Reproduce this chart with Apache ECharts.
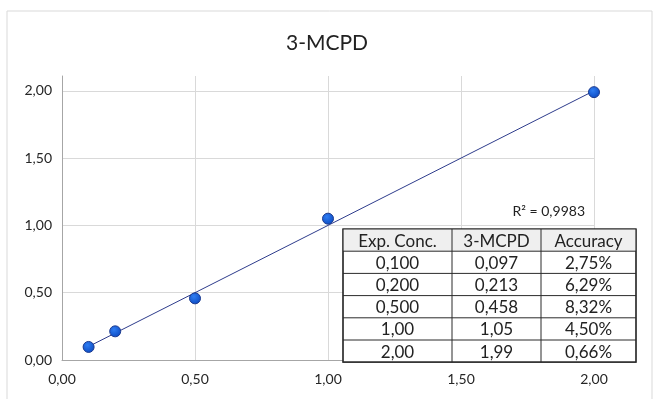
<!DOCTYPE html>
<html><head><meta charset="utf-8">
<script src="https://cdn.jsdelivr.net/npm/echarts@6/dist/echarts.min.js"></script>
<style>html,body{margin:0;padding:0;background:#fff}#c{width:654px;height:399px}</style>
</head><body><div id="c"></div>
<script>
const expConc = [0.100, 0.200, 0.500, 1.00, 2.00];
const measured = [0.097, 0.213, 0.458, 1.05, 1.99];
const trendX = [0.1, 2.0];
const trendY = [0.1, 2.0];
const xTicks = [0, 0.5, 1.0, 1.5, 2.0];
const yTicks = [0, 0.5, 1.0, 1.5, 2.0];
const rSquared = '0,9983';
const tableHeader = ['Exp. Conc.', '3-MCPD', 'Accuracy'];
const colExp = ['0,100', '0,200', '0,500', '1,00', '2,00'];
const colMeas = ['0,097', '0,213', '0,458', '1,05', '1,99'];
const colAcc = ['2,75%', '6,29%', '8,32%', '4,50%', '0,66%'];

const FONT = 'Lato';
const fmt = v => v.toFixed(2).replace('.', ',');

// table layout
const tX = 343, tY = 229, colW = [109, 89, 95], rowH = 22.2;
const tableEls = [];
const rows = [tableHeader].concat(colExp.map((e, i) => [e, colMeas[i], colAcc[i]]));
const totalW = colW.reduce((a, b) => a + b, 0);
tableEls.push({type: 'rect', shape: {x: tX, y: tY, width: totalW, height: rowH * rows.length}, style: {fill: '#fff', stroke: '#2b2b2b', lineWidth: 1.2}, z: 10});
tableEls.push({type: 'rect', shape: {x: tX, y: tY, width: totalW, height: rowH}, style: {fill: '#efefef', stroke: null}, z: 10});
rows.forEach((r, ri) => {
  let cx = tX;
  r.forEach((t, ci) => {
    tableEls.push({type: 'text', x: cx + colW[ci] / 2, y: tY + rowH * ri + rowH / 2 + 1,
      style: {text: t, fill: '#222', font: '17px ' + FONT, align: 'center', verticalAlign: 'middle'}, z: 12});
    cx += colW[ci];
  });
  if (ri > 0) tableEls.push({type: 'line', shape: {x1: tX, y1: tY + rowH * ri, x2: tX + totalW, y2: tY + rowH * ri}, style: {stroke: '#2b2b2b', lineWidth: 1}, z: 11});
});
let vx = tX;
colW.slice(0, -1).forEach(w => { vx += w; tableEls.push({type: 'line', shape: {x1: vx, y1: tY, x2: vx, y2: tY + rowH * rows.length}, style: {stroke: '#2b2b2b', lineWidth: 1}, z: 11}); });
tableEls.push({type: 'rect', shape: {x: tX, y: tY, width: totalW, height: rowH * rows.length}, style: {fill: null, stroke: '#2b2b2b', lineWidth: 1.2}, z: 13});

const chart = echarts.init(document.getElementById('c'), null, {renderer: 'canvas'});
chart.setOption({
  animation: false,
  backgroundColor: '#fff',
  title: {text: '3-MCPD', left: 'center', top: 28, textStyle: {fontFamily: FONT, fontSize: 21, fontWeight: 'normal', color: '#222'}},
  grid: {left: 62, right: 60, top: 76, bottom: 39, containLabel: false},
  xAxis: {type: 'value', min: 0, max: 2.0, interval: 0.5,
    axisLine: {show: true, lineStyle: {color: '#a6a6a6', width: 1}},
    axisTick: {show: false},
    axisLabel: {formatter: fmt, fontFamily: FONT, fontSize: 14, color: '#262626', margin: 12},
    splitLine: {show: true, lineStyle: {color: '#d9d9d9', width: 1}}},
  yAxis: {type: 'value', min: 0, max: 2.11, interval: 0.5,
    axisLine: {show: true, lineStyle: {color: '#a6a6a6', width: 1}},
    axisTick: {show: false},
    axisLabel: {formatter: v => (yTicks.some(t => Math.abs(t - v) < 1e-6) ? fmt(v) : ''), fontFamily: FONT, fontSize: 14, color: '#262626', margin: 10, showMaxLabel: false},
    splitLine: {show: true, showMaxLine: false, lineStyle: {color: '#d9d9d9', width: 1}}},
  series: [
    {type: 'line', data: trendX.map((x, i) => [x, trendY[i]]), symbol: 'none', lineStyle: {color: '#2e3c8c', width: 1}, z: 2, silent: true},
    {type: 'scatter', data: expConc.map((x, i) => [x, measured[i]]), symbol: 'circle', symbolSize: 11,
      itemStyle: {color: new echarts.graphic.RadialGradient(0.4, 0.35, 0.7, [{offset: 0, color: '#2f7df2'}, {offset: 1, color: '#0a48c0'}]), borderColor: '#1d3b8f', borderWidth: 1, opacity: 1}, z: 3}
  ],
  graphic: [
    {type: 'rect', shape: {x: 7, y: 11, width: 645, height: 400}, style: {fill: null, stroke: '#d9d9d9', lineWidth: 1}, z: 0, silent: true},
    {type: 'text', x: 585, y: 211, style: {text: 'R² = ' + rSquared, fill: '#222', font: '14px ' + FONT, align: 'right', verticalAlign: 'middle'}, z: 10}
  ].concat(tableEls)
});
</script></body></html>
